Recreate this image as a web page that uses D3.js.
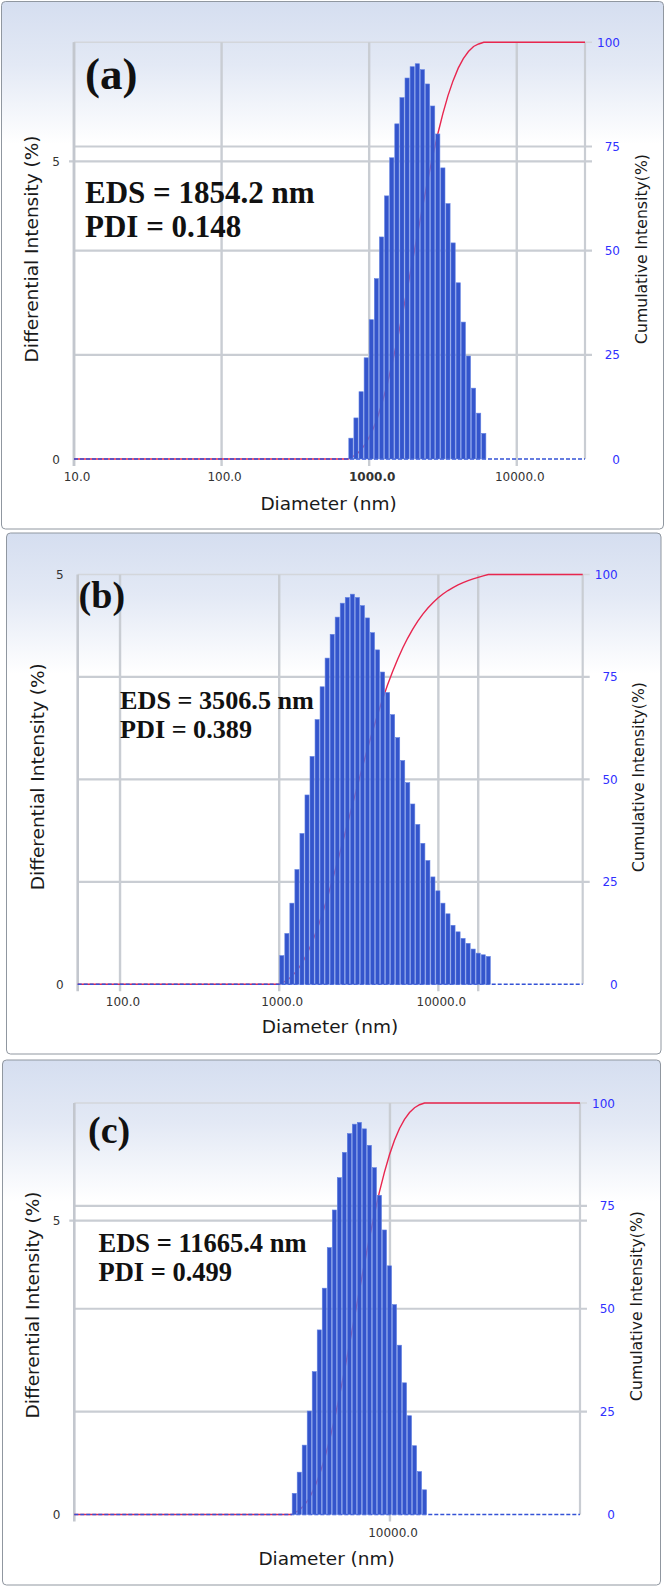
<!DOCTYPE html>
<html><head><meta charset="utf-8">
<script src="https://cdn.jsdelivr.net/npm/d3@7"></script>
<style>html,body{margin:0;padding:0;background:#fff;} svg{display:block;}</style>
</head><body>
<svg id="chart" width="666" height="1587"></svg>
<script>
// ---------- DATA ----------
// Panel (a)
const diamA = [752,814,882,955,1034,1120,1213,1314,1423,1541,1669,1807,1957,2120,2296,2486,2693,2916,3158,3420,3704,4012,4344,4705,5096,5519,5977];
const diffA = [0.35,0.69,1.13,1.70,2.34,3.03,3.73,4.42,5.06,5.63,6.07,6.40,6.59,6.64,6.54,6.30,5.93,5.46,4.89,4.29,3.63,2.96,2.30,1.73,1.19,0.77,0.43];
const cumA  = [0.4,1.0,2.2,3.9,6.2,9.2,13.0,17.4,22.5,28.1,34.2,40.6,47.1,53.8,60.3,66.6,72.6,78.0,82.9,87.2,90.8,93.8,96.1,97.8,99.0,99.6,100];
const xTicksA = [10,100,1000,10000];
const xTickLabelsA = ["10.0","100.0","1000.0","10000.0"];
const xDomainA = [10,29000];
const yMaxA = 7;

// Panel (b)
const diamB = [1039,1118,1202,1293,1391,1496,1609,1731,1861,2002,2153,2316,2491,2679,2882,3099,3333,3585,3856,4148,4461,4798,5160,5550,5970,6420,6905,7427,7989,8593,9242,9934,10684,11491,12359,13293,14298,15378,16540,17791,19135,20581];
const diffB = [0.35,0.62,0.99,1.40,1.84,2.31,2.78,3.23,3.63,3.98,4.27,4.48,4.65,4.72,4.76,4.72,4.62,4.47,4.29,4.08,3.81,3.56,3.29,3.01,2.73,2.46,2.20,1.95,1.72,1.51,1.31,1.14,0.99,0.86,0.72,0.64,0.56,0.50,0.43,0.38,0.36,0.34];
const cumB  = [0.35,0.96,1.95,3.34,5.17,7.46,10.22,13.43,17.04,20.99,25.23,29.68,34.30,38.99,43.72,48.41,53.00,57.44,61.70,65.75,69.54,73.08,76.35,79.34,82.05,84.49,86.68,88.61,90.32,91.82,93.13,94.26,95.24,96.09,96.81,97.45,98.00,98.50,98.93,99.30,99.66,100];
const xTicksB = [100,1000,10000];
const xTickLabelsB = ["100.0","1000.0","10000.0"];
const xExtraGridB = [17800];
const xDomainB = [54.2,80700];
const yMaxB = 5;

// Panel (c)
const diamC = [4975,5160,5352,5551,5758,5972,6195,6426,6665,6913,7170,7437,7714,8001,8299,8608,8928,9261,9607,9965,10336,10720,11119,11533,11962,12408,12870];
const diffC = [0.36,0.72,1.18,1.76,2.43,3.14,3.85,4.54,5.18,5.73,6.16,6.48,6.64,6.67,6.56,6.28,5.90,5.43,4.84,4.23,3.57,2.88,2.24,1.68,1.17,0.73,0.42];
const cumC  = [0.36,1.07,2.24,3.99,6.40,9.52,13.34,17.84,22.98,28.67,34.78,41.21,47.80,54.42,60.93,67.16,73.02,78.41,83.21,87.41,90.95,93.81,96.03,97.70,98.86,99.58,100];
const xTicksC = [10000];
const xTickLabelsC = ["10000.0"];
const xDomainC = [1000,40000];
const yMaxC = 7;

const leftTicks = [0,5];
const rightTicks = [0,25,50,75,100];
const xTitle = "Diameter (nm)";
const yLeftTitle = "Differential Intensity (%)";
const yRightTitle = "Cumulative Intensity(%)";
const panelLabels = ["(a)","(b)","(c)"];
const edsLabels = ["EDS = 1854.2 nm","EDS = 3506.5 nm","EDS = 11665.4 nm"];
const pdiLabels = ["PDI = 0.148","PDI = 0.389","PDI = 0.499"];

// ---------- DRAW ----------
const svg = d3.select("#chart");
const defs = svg.append("defs");
const grad = defs.append("linearGradient").attr("id","bg").attr("x1",0).attr("y1",0).attr("x2",0).attr("y2",1);
grad.append("stop").attr("offset",0).attr("stop-color","#d5def0");
grad.append("stop").attr("offset",0.12).attr("stop-color","#e3e9f5");
grad.append("stop").attr("offset",0.27).attr("stop-color","#ffffff");
grad.append("stop").attr("offset",1).attr("stop-color","#ffffff");

const GRID = "#c9cdd3";
const SANS = "'DejaVu Sans', Verdana, sans-serif";
const SERIF = "'Liberation Serif', 'Times New Roman', serif";

function drawPanel(p) {
  const g = svg.append("g");
  g.append("rect").attr("x",p.box[0]).attr("y",p.box[1]).attr("width",p.box[2]).attr("height",p.box[3])
    .attr("rx",4).attr("fill","url(#bg)").attr("stroke","#9097a0").attr("stroke-width",1);

  const x = d3.scaleLog().domain(p.xDomain).range([p.L, p.R]);
  const yL = d3.scaleLinear().domain([0, p.yMax]).range([p.B, p.T]);
  const yR = d3.scaleLinear().domain([0, 100]).range([p.B, p.T]);

  rightTicks.filter(v => v > 0 && v < 100).forEach(v => {
    g.append("line").attr("x1",p.L).attr("x2",p.R+7).attr("y1",yR(v)).attr("y2",yR(v))
      .attr("stroke",GRID).attr("stroke-width",2.2);
  });
  leftTicks.filter(v => v > 0 && v < p.yMax).forEach(v => {
    g.append("line").attr("x1",p.L-5).attr("x2",p.R+7).attr("y1",yL(v)).attr("y2",yL(v))
      .attr("stroke",GRID).attr("stroke-width",2.2);
  });
  g.append("line").attr("x1",p.L).attr("x2",p.R+7).attr("y1",p.T).attr("y2",p.T)
    .attr("stroke","#d3d6db").attr("stroke-width",1.5);
  p.xTicks.concat(p.extraGrid || []).forEach(v => {
    g.append("line").attr("x1",x(v)).attr("x2",x(v)).attr("y1",p.T).attr("y2",p.B+7)
      .attr("stroke",GRID).attr("stroke-width",2.4);
  });
  g.append("line").attr("x1",p.L).attr("x2",p.L).attr("y1",p.T).attr("y2",p.B+7)
    .attr("stroke","#c3c7ce").attr("stroke-width",2.6);
  g.append("line").attr("x1",p.R).attr("x2",p.R).attr("y1",p.T).attr("y2",p.B)
    .attr("stroke",GRID).attr("stroke-width",2.2);

  const d = p.diam;
  const firstEdge = d[0] / Math.sqrt(d[1]/d[0]);
  const cumPts = [[p.xDomain[0],0],[firstEdge,0]].concat(d.map((v,i)=>[v,p.cum[i]])).concat([[p.xDomain[1],100]]);
  g.append("path").datum(cumPts)
    .attr("d", d3.line().x(q=>x(q[0])).y(q=>yR(q[1])))
    .attr("fill","none").attr("stroke","#e8264f").attr("stroke-width",1.4);

  g.append("line").attr("x1",p.L).attr("x2",p.R).attr("y1",yL(0)).attr("y2",yL(0))
    .attr("stroke","#3553d6").attr("stroke-width",1.5).attr("stroke-dasharray","4,2");

  const edges = d.map((v,i) => {
    const prev = i > 0 ? d[i-1] : v*v/d[1];
    const next = i < d.length-1 ? d[i+1] : v*v/d[i-1];
    return [Math.sqrt(prev*v), Math.sqrt(v*next)];
  });
  g.selectAll("rect.bar").data(p.diff).enter().append("rect").attr("class","bar")
    .attr("x",(v,i)=>x(edges[i][0])+0.45)
    .attr("width",(v,i)=>x(edges[i][1])-x(edges[i][0])-0.9)
    .attr("y",v=>yL(v)).attr("height",v=>yL(0)-yL(v))
    .attr("fill","#3455cc").attr("stroke","#6382e2").attr("stroke-width",0.6);

  p.xTicks.forEach((v,i) => {
    g.append("text").attr("x",x(v)+3).attr("y",p.xLabY).attr("text-anchor","middle")
      .attr("font-family",SANS).attr("font-size",12).attr("fill","#333")
      .attr("font-weight", (p.boldTick===i) ? "bold" : "normal")
      .text(p.xLabels[i]);
  });
  leftTicks.forEach(v => {
    g.append("text").attr("x",p.L-14).attr("y",yL(v)+4.5).attr("text-anchor","end")
      .attr("font-family",SANS).attr("font-size",12).attr("fill","#333").text(v);
  });
  rightTicks.forEach(v => {
    g.append("text").attr("x",p.R+35).attr("y",yR(v)+4.5).attr("text-anchor","end")
      .attr("font-family",SANS).attr("font-size",12).attr("fill","#3030ff").text(v);
  });

  g.append("text").attr("x",p.xTitle[0]).attr("y",p.xTitle[1]).attr("text-anchor","middle")
    .attr("font-family",SANS).attr("font-size",18.5).attr("fill","#1a1a1a").text(xTitle);
  g.append("text").attr("transform",`translate(${p.yLT[0]},${p.yLT[1]}) rotate(-90)`)
    .attr("text-anchor","middle").attr("dy","0.35em")
    .attr("font-family",SANS).attr("font-size",18.5).attr("fill","#1a1a1a").text(yLeftTitle);
  g.append("text").attr("transform",`translate(${p.yRT[0]},${p.yRT[1]}) rotate(-90)`)
    .attr("text-anchor","middle").attr("dy","0.35em")
    .attr("font-family",SANS).attr("font-size",15.7).attr("fill","#1a1a1a").text(yRightTitle);

  g.append("text").attr("x",p.lab[0]).attr("y",p.lab[1]).attr("font-family",SERIF).attr("font-weight","bold")
    .attr("font-size",p.lab[2]).attr("fill","#111").text(p.label);
  g.append("text").attr("x",p.eds[0]).attr("y",p.eds[1]).attr("font-family",SERIF).attr("font-weight","bold")
    .attr("font-size",p.eds[3]).attr("fill","#111").text(p.edsText);
  g.append("text").attr("x",p.eds[0]).attr("y",p.eds[2]).attr("font-family",SERIF).attr("font-weight","bold")
    .attr("font-size",p.eds[3]).attr("fill","#111").text(p.pdiText);
}

drawPanel({box:[1.5,1.5,662,527.5], L:74, R:585, T:42.3, B:459, xDomain:xDomainA, yMax:yMaxA,
  diam:diamA, diff:diffA, cum:cumA, xTicks:xTicksA, xLabels:xTickLabelsA, boldTick:2, xLabY:481,
  xTitle:[328.6,510], yLT:[31.7,249], yRT:[641.5,249],
  label:panelLabels[0], lab:[85,89,45], edsText:edsLabels[0], pdiText:pdiLabels[0], eds:[85,203,237,31]});

drawPanel({box:[6.5,533,654.5,521], L:77.7, R:582.7, T:574.5, B:984.3, xDomain:xDomainB, yMax:yMaxB,
  diam:diamB, diff:diffB, cum:cumB, xTicks:xTicksB, xLabels:xTickLabelsB, extraGrid:xExtraGridB, xLabY:1006,
  xTitle:[330,1033], yLT:[37.2,776.7], yRT:[638.3,777],
  label:panelLabels[1], lab:[78.6,608,38], edsText:edsLabels[1], pdiText:pdiLabels[1], eds:[120,709,738,26.2]});

drawPanel({box:[2.5,1060,658,525], L:74.3, R:580, T:1103, B:1514.5, xDomain:xDomainC, yMax:yMaxC,
  diam:diamC, diff:diffC, cum:cumC, xTicks:xTicksC, xLabels:xTickLabelsC, xLabY:1536.5,
  xTitle:[326.6,1564.5], yLT:[32.8,1305], yRT:[636.8,1306],
  label:panelLabels[2], lab:[88,1143,38], edsText:edsLabels[2], pdiText:pdiLabels[2], eds:[98.5,1251.8,1280.7,26.5]});
</script>
</body></html>
